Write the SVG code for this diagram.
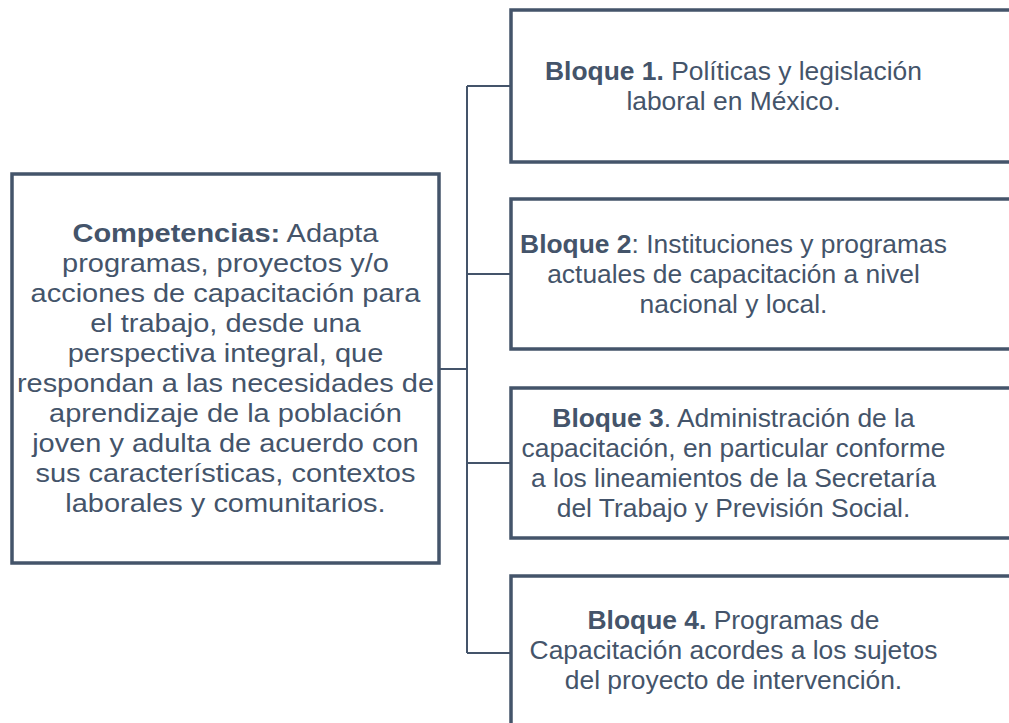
<svg xmlns="http://www.w3.org/2000/svg" width="1009" height="723" viewBox="0 0 1009 723">
<style>
.box{fill:#fff;stroke:#44546A;stroke-width:3.5}
.ln{fill:none;stroke:#44546A;stroke-width:2}
text{font-family:"Liberation Sans",Arial,sans-serif;font-size:26.4px;fill:#44546A;text-anchor:middle}
.l{font-size:26px}
.b{font-weight:bold}
</style>
<rect width="1009" height="723" fill="#fff"/>
<g id="connectors">
<path class="ln" d="M439 369H467M467 86V653M467 86H511M467 274H511M467 463H511M467 653H511"/>
</g>
<g id="competencias">
<rect class="box" x="12" y="174" width="427" height="389"/>
<g transform="scale(1.115,1)">
<text class="l" x="202.2" y="242"><tspan class="b">Competencias:</tspan> Adapta</text>
<text class="l" x="202.2" y="272">programas, proyectos y/o</text>
<text class="l" x="202.2" y="302">acciones de capacitación para</text>
<text class="l" x="202.2" y="332">el trabajo, desde una</text>
<text class="l" x="202.2" y="362">perspectiva integral, que</text>
<text class="l" x="202.2" y="392">respondan a las necesidades de</text>
<text class="l" x="202.2" y="422">aprendizaje de la población</text>
<text class="l" x="202.2" y="452">joven y adulta de acuerdo con</text>
<text class="l" x="202.2" y="482">sus características, contextos</text>
<text class="l" x="202.2" y="512">laborales y comunitarios.</text>
</g>
</g>
<g id="bloque1">
<rect class="box" x="511" y="10" width="505" height="152"/>
<text x="733.5" y="80"><tspan class="b">Bloque 1.</tspan> Políticas y legislación</text>
<text x="733.5" y="110">laboral en México.</text>
</g>
<g id="bloque2">
<rect class="box" x="511" y="199" width="505" height="150"/>
<text x="733.5" y="253"><tspan class="b">Bloque 2</tspan>: Instituciones y programas</text>
<text x="733.5" y="283">actuales de capacitación a nivel</text>
<text x="733.5" y="313">nacional y local.</text>
</g>
<g id="bloque3">
<rect class="box" x="511" y="388" width="505" height="150"/>
<text x="733.5" y="427"><tspan class="b">Bloque 3</tspan>. Administración de la</text>
<text x="733.5" y="457">capacitación, en particular conforme</text>
<text x="733.5" y="487">a los lineamientos de la Secretaría</text>
<text x="733.5" y="517">del Trabajo y Previsión Social.</text>
</g>
<g id="bloque4">
<rect class="box" x="511" y="576" width="505" height="160"/>
<text x="733.5" y="629"><tspan class="b">Bloque 4.</tspan> Programas de</text>
<text x="733.5" y="659">Capacitación acordes a los sujetos</text>
<text x="733.5" y="689">del proyecto de intervención.</text>
</g>
</svg>
